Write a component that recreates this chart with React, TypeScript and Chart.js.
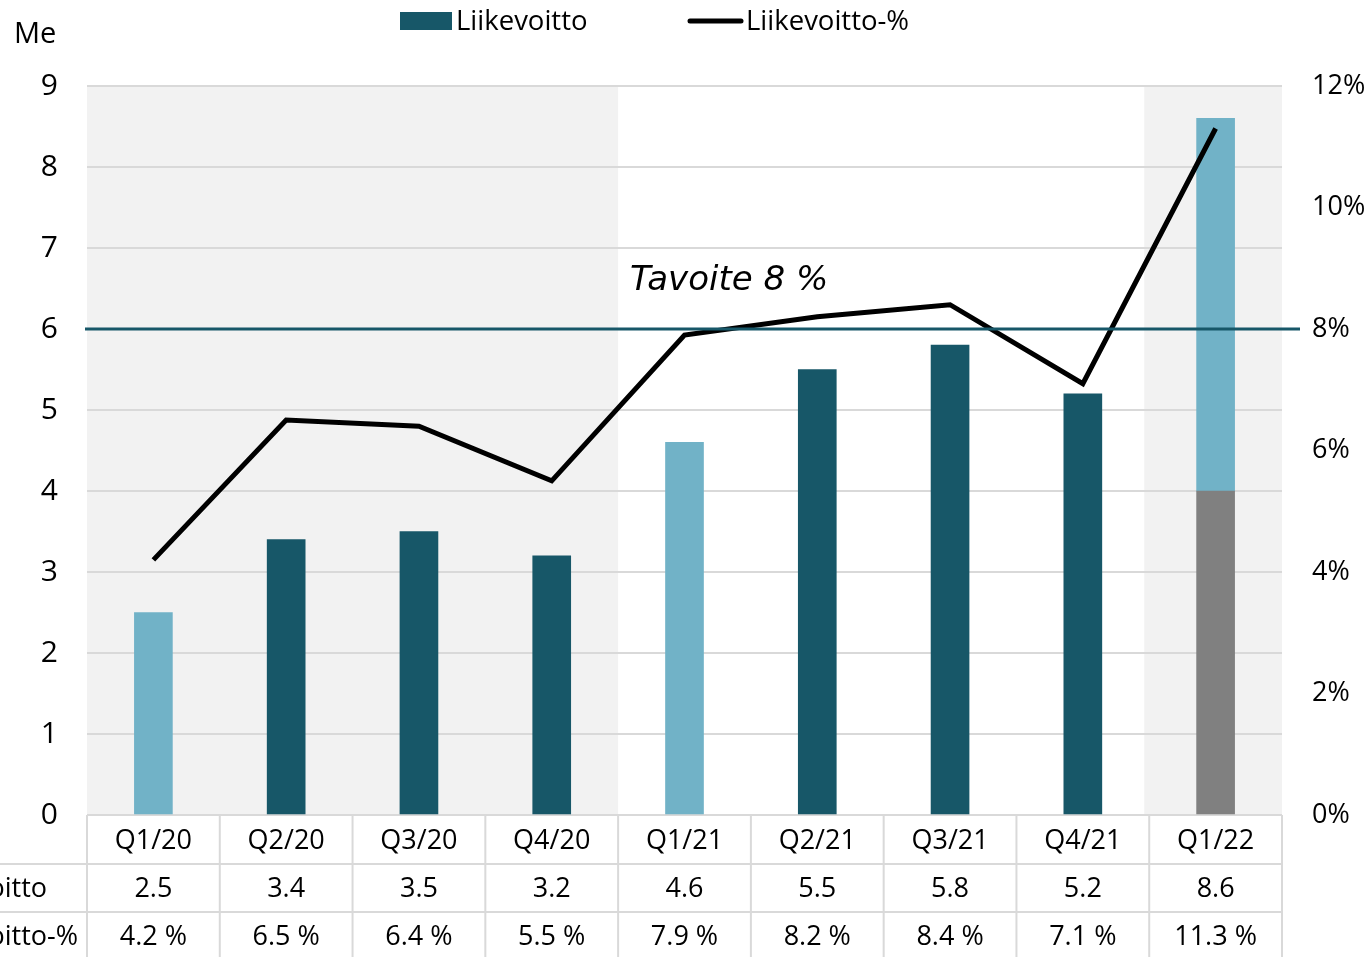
import React, { useEffect, useRef } from "react";
import { Chart, registerables } from "chart.js";

Chart.register(...registerables);

// ---- data ----
const quarters = ["Q1/20", "Q2/20", "Q3/20", "Q4/20", "Q1/21", "Q2/21", "Q3/21", "Q4/21", "Q1/22"];
const liikevoitto = [2.5, 3.4, 3.5, 3.2, 4.6, 5.5, 5.8, 5.2, 8.6];
const liikevoittoPct = [4.2, 6.5, 6.4, 5.5, 7.9, 8.2, 8.4, 7.1, 11.3];
const barKinds = ["light", "dark", "dark", "dark", "light", "dark", "dark", "dark", "split"];
const splitBase = 4.0; // grey lower part of the Q1/22 bar
const tavoitePct = 8;
const pctLabels = ["4.2 %", "6.5 %", "6.4 %", "5.5 %", "7.9 %", "8.2 %", "8.4 %", "7.1 %", "11.3 %"];
const valueLabels = ["2.5", "3.4", "3.5", "3.2", "4.6", "5.5", "5.8", "5.2", "8.6"];
const rowLabels = ["Liikevoitto", "Liikevoitto-%"];
const seriesNames = ["Liikevoitto", "Liikevoitto-%"];
const unitLabel = "Me";
const targetLabel = "Tavoite 8 %";

// ---- styles ----
const DARK = "#175768";
const LIGHT = "#71b2c7";
const GREY = "#808080";
const BG = "#f2f2f2";
const GRID = "#d9d9d9";
const TXT = "Open Sans";

const colorFor = (k: string) => (k === "dark" ? DARK : k === "light" ? LIGHT : GREY);

const overlay = {
  id: "overlay",
  beforeDraw(chart: any) {
    const { ctx, chartArea } = chart;
    const x = chart.scales.x;
    const cw = (chartArea.right - chartArea.left) / quarters.length;
    ctx.save();
    ctx.fillStyle = BG;
    const b1 = x.getPixelForValue(4) - cw / 2;
    const b2 = x.getPixelForValue(8) - cw / 2 - 5;
    ctx.fillRect(chartArea.left, chartArea.top, b1 - chartArea.left, chartArea.bottom - chartArea.top);
    ctx.fillRect(b2, chartArea.top, chartArea.right - b2, chartArea.bottom - chartArea.top);
    ctx.restore();
  },
  afterDatasetsDraw(chart: any) {
    const { ctx, chartArea } = chart;
    const y1 = chart.scales.y1;
    const yy = y1.getPixelForValue(tavoitePct);
    ctx.save();
    ctx.strokeStyle = DARK;
    ctx.lineWidth = 3;
    ctx.beginPath();
    ctx.moveTo(chartArea.left - 2, yy);
    ctx.lineTo(chartArea.right + 18, yy);
    ctx.stroke();
    ctx.fillStyle = "#000";
    ctx.font = "italic 34px 'DejaVu Sans'";
    ctx.textAlign = "left";
    ctx.textBaseline = "middle";
    ctx.fillText(targetLabel, 630, yy - 48);
    ctx.restore();
  },
  afterDraw(chart: any) {
    const { ctx, chartArea } = chart;
    const x = chart.scales.x;
    const cw = (chartArea.right - chartArea.left) / quarters.length;
    const H = chart.height;
    ctx.save();
    // legend
    ctx.fillStyle = DARK;
    ctx.fillRect(400, 12, 52, 18);
    ctx.strokeStyle = "#000";
    ctx.lineWidth = 5;
    ctx.lineCap = "round";
    ctx.beginPath();
    ctx.moveTo(690, 21);
    ctx.lineTo(741, 21);
    ctx.stroke();
    ctx.fillStyle = "#000";
    ctx.font = `27.5px '${TXT}'`;
    ctx.textBaseline = "middle";
    ctx.textAlign = "left";
    ctx.fillText(seriesNames[0], 456, 22);
    ctx.fillText(seriesNames[1], 746, 22);
    // unit label
    ctx.font = `29px '${TXT}'`;
    ctx.fillText(unitLabel, 14, 35);
    // table
    const rowTops = [chartArea.bottom, 864, 912, H];
    ctx.strokeStyle = GRID;
    ctx.lineWidth = 2;
    ctx.lineCap = "butt";
    ctx.beginPath();
    for (let i = 0; i <= quarters.length; i++) {
      const bx = chartArea.left + i * cw;
      ctx.moveTo(bx, chartArea.bottom);
      ctx.lineTo(bx, H);
    }
    ctx.moveTo(0, rowTops[1]);
    ctx.lineTo(chartArea.right, rowTops[1]);
    ctx.moveTo(0, rowTops[2]);
    ctx.lineTo(chartArea.right, rowTops[2]);
    ctx.stroke();
    ctx.fillStyle = "#000";
    ctx.font = `27px '${TXT}'`;
    ctx.textAlign = "center";
    const rows = [quarters, valueLabels, pctLabels];
    const cys = [841, 889, 937];
    for (let r = 0; r < 3; r++) {
      rows[r].forEach((t, i) => ctx.fillText(t, x.getPixelForValue(i), cys[r]));
    }
    ctx.textAlign = "left";
    const start = 47 - ctx.measureText(rowLabels[0]).width;
    ctx.fillText(rowLabels[0], start, cys[1]);
    ctx.fillText(rowLabels[1], start, cys[2]);
    ctx.restore();
  },
};

export default function App() {
  const ref = useRef<HTMLCanvasElement>(null);
  useEffect(() => {
    if (!ref.current) return;
    const chart = new Chart(ref.current, {
      type: "bar",
      data: {
        labels: quarters,
        datasets: [
          {
            type: "line",
            label: seriesNames[1],
            data: liikevoittoPct,
            yAxisID: "y1",
            borderColor: "#000",
            borderWidth: 5,
            pointRadius: 0,
            tension: 0,
            order: 0,
          } as any,
          {
            label: seriesNames[0],
            data: liikevoitto.map((v, i) => (barKinds[i] === "split" ? splitBase : v)),
            backgroundColor: barKinds.map(colorFor),
            barThickness: 38,
            yAxisID: "y",
            order: 1,
          },
          {
            label: "top",
            data: liikevoitto.map((v, i) => (barKinds[i] === "split" ? +(v - splitBase).toFixed(2) : null)),
            backgroundColor: LIGHT,
            barThickness: 38,
            yAxisID: "y",
            order: 1,
          },
        ],
      },
      options: {
        responsive: false,
        animation: false,
        devicePixelRatio: 1,
        layout: { padding: { left: 0, right: 0, top: 86, bottom: 142 } },
        plugins: { legend: { display: false }, tooltip: { enabled: false } },
        scales: {
          x: { display: false, stacked: true },
          y: {
            position: "left",
            stacked: true,
            min: 0,
            max: 9,
            ticks: { stepSize: 1, color: "#000", padding: 29, font: { family: TXT, size: 30 } },
            grid: { color: GRID, lineWidth: 2, drawTicks: false },
            border: { display: false },
            afterFit: (s: any) => { s.width = 87; },
          },
          y1: {
            position: "right",
            stacked: false,
            min: 0,
            max: 12,
            ticks: { stepSize: 2, color: "#000", padding: 30, font: { family: TXT, size: 27 }, callback: (v: any) => `${v}%` },
            grid: { display: false, drawTicks: false },
            border: { display: false },
            afterFit: (s: any) => { s.width = 88; },
          },
        },
      } as any,
      plugins: [overlay],
    });
    return () => chart.destroy();
  }, []);
  return (
    <div style={{ position: "fixed", left: 0, top: 0, width: 1370, height: 957, background: "#fff" }}>
      <canvas ref={ref} width={1370} height={957} style={{ width: 1370, height: 957, display: "block" }} />
    </div>
  );
}
